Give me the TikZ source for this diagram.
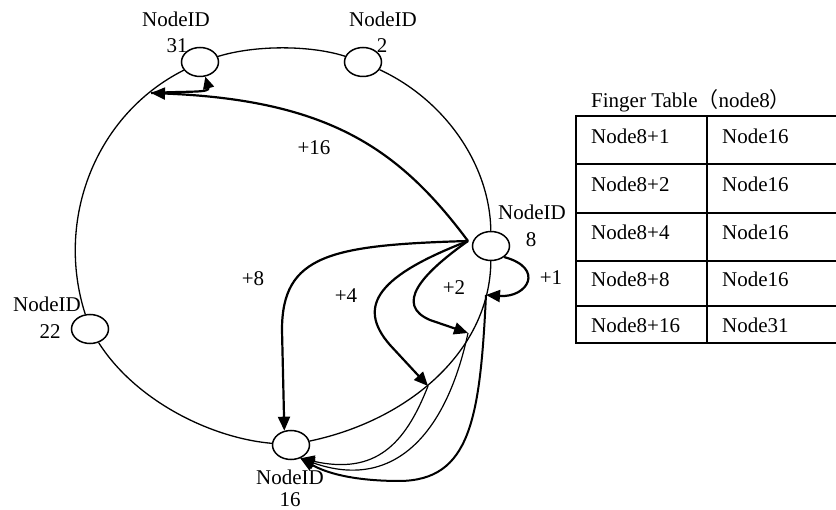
\documentclass[tikz,border=0pt]{standalone}
\usepackage{fontspec}
\setmainfont{Liberation Serif}
\newfontfamily\cjkfont{Noto Sans CJK SC}
\usetikzlibrary{arrows.meta,shapes.geometric}
\begin{document}
\begin{tikzpicture}[x=1pt,y=-1pt,
  every node/.style={font=\fontsize{21}{24}\selectfont, inner sep=0pt},
  peer/.style={ellipse,draw,line width=1.5pt,minimum width=37pt,minimum height=29pt},
  ring/.style={line width=1.3pt},
  arr/.style={line width=2.2pt,-{Triangle[length=14pt,width=12pt]}},
  smallarr/.style={line width=2.2pt,-{Triangle[length=12pt,width=11pt]}},
  back/.style={line width=1.2pt,-{Triangle[length=14pt,width=12pt]}},
  lbl/.style={anchor=base},
  cell/.style={anchor=base west},
  tabline/.style={line width=2pt}]
\useasboundingbox (0,0) rectangle (836,510);

% peers
\node[peer] (n31) at (200,62) {};
\node[peer] (n2) at (363,62) {};
\node[peer] (n8) at (491,246) {};
\node[peer] (n22) at (90,329) {};
\node[peer] (n16) at (291,445) {};

% ring
\draw[ring] (n31) .. controls (255,45) and (310,45) .. (n2);
\draw[ring] (n2) .. controls (445,100) and (490,165) .. (n8);
\draw[ring] (n8) .. controls (490,350) and (410,420) .. (n16);
\draw[ring] (n16) .. controls (210,438) and (135,400) .. (n22);
\draw[ring] (n22) .. controls (55,220) and (95,115) .. (n31);

% points on the ring
\coordinate (s8) at (468,241);
\coordinate (p16) at (151,93);
\coordinate (p1) at (486,295);
\coordinate (p2) at (468,333);
\coordinate (p4) at (428,386);

% finger arrows
\draw[arr] (s8) .. controls (400,150) and (330,100) .. (p16);
\draw[smallarr] (p16) .. controls (190,91) and (210,93) .. (n31.-70);
\draw[arr] (s8) .. controls (330,245) and (282,255) .. (282,330) -- (n16.115);
\draw[arr] (s8) .. controls (380,275) and (355,305) .. (390,345) -- (p4);
\draw[arr] (s8) .. controls (420,275) and (395,305) .. (430,320) -- (p2);
\draw[arr] (n8.-40) .. controls (545,268) and (528,298) .. (p1);

% returns to node 16
\draw[back] (p4) .. controls (405,445) and (375,475) .. (n16.-55);
\draw[back] (p2) .. controls (445,440) and (390,490) .. (n16.-55);
\draw[back,line width=2pt] (p1) .. controls (480,420) and (470,480) .. (400,481) .. controls (360,481) and (330,475) .. (n16.-55);

% labels
\node[lbl] (t31a) at (176,27) {NodeID};
\node[lbl] (t31b) at (177,53) {31};
\node[lbl] (t2a) at (383,27) {NodeID};
\node[lbl] (t2b) at (382,53) {2};
\node[lbl] (t8a) at (532,220) {NodeID};
\node[lbl] (t8b) at (531,246.5) {8};
\node[lbl] (t22a) at (47,312) {NodeID};
\node[lbl] (t22b) at (50,339) {22};
\node[lbl] (t16a) at (290,485) {NodeID};
\node[lbl] (t16b) at (290,507) {16};

\node[lbl] (d16) at (314,155) {+16};
\node[lbl] (d8) at (253,285.5) {+8};
\node[lbl] (d4) at (346,303) {+4};
\node[lbl] (d2) at (454,295) {+2};
\node[lbl] (d1) at (551,285) {+1};

% finger table
\node[cell] (title) at (591,108) {Finger Table{\cjkfont （}node8{\cjkfont ）}};
\foreach \y in {116.5,164.5,213,261,306,343}{
  \draw[tabline] (575,\y) -- (836,\y);
}
\draw[tabline] (576,116.5) -- (576,343);
\draw[tabline] (707,116.5) -- (707,343);
\node[cell] (a1) at (591,143.3) {Node8+1};
\node[cell] (b1) at (722,143.3) {Node16};
\node[cell] (a2) at (591,191.7) {Node8+2};
\node[cell] (b2) at (722,191.7) {Node16};
\node[cell] (a3) at (591,240) {Node8+4};
\node[cell] (b3) at (722,240) {Node16};
\node[cell] (a4) at (591,286.7) {Node8+8};
\node[cell] (b4) at (722,286.7) {Node16};
\node[cell] (a5) at (591,332.3) {Node8+16};
\node[cell] (b5) at (722,332.3) {Node31};
\end{tikzpicture}
\end{document}
